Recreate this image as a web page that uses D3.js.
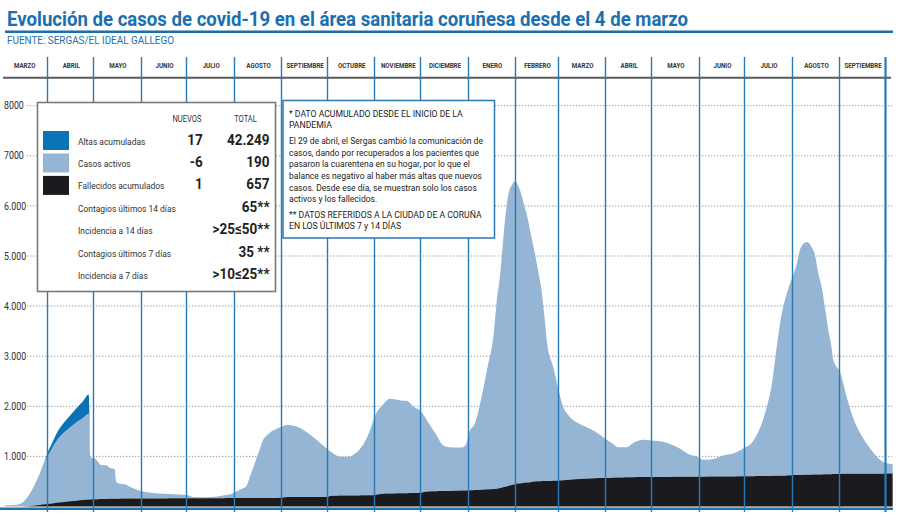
<!DOCTYPE html>
<html><head><meta charset="utf-8">
<script src="https://cdn.jsdelivr.net/npm/d3@7"></script>
<style>
body{margin:0;background:#fff;}
svg{display:block;font-family:Roboto,"Noto Sans",sans-serif;}
</style></head><body>
<svg id="chart" width="900" height="523"></svg>
<script>
// ---------- DATA ----------
const fechas = ["2020-03-04","2020-03-10","2020-03-14","2020-03-18","2020-03-21","2020-03-24","2020-03-27","2020-03-30",
"2020-04-01","2020-04-04","2020-04-08","2020-04-12","2020-04-16","2020-04-20","2020-04-24","2020-04-28","2020-04-29",
"2020-05-02","2020-05-04","2020-05-06","2020-05-10","2020-05-12","2020-05-15","2020-05-16","2020-05-18","2020-05-22","2020-05-26","2020-05-30",
"2020-06-04","2020-06-09","2020-06-17","2020-06-24","2020-06-29",
"2020-07-03","2020-07-05","2020-07-11","2020-07-17","2020-07-21","2020-07-25","2020-07-29",
"2020-08-02","2020-08-06","2020-08-09","2020-08-12","2020-08-14","2020-08-16","2020-08-18","2020-08-20","2020-08-23","2020-08-25","2020-08-29",
"2020-09-02","2020-09-05","2020-09-09","2020-09-13","2020-09-19","2020-09-26",
"2020-10-01","2020-10-04","2020-10-07","2020-10-11","2020-10-16","2020-10-19","2020-10-22","2020-10-25","2020-10-29",
"2020-11-01","2020-11-07","2020-11-11","2020-11-14","2020-11-18","2020-11-22","2020-11-27",
"2020-12-01","2020-12-06","2020-12-11","2020-12-16","2020-12-20","2020-12-25","2020-12-29","2020-12-31",
"2021-01-02","2021-01-06","2021-01-10","2021-01-14","2021-01-18","2021-01-20","2021-01-22","2021-01-24","2021-01-26","2021-01-28","2021-01-30",
"2021-02-01","2021-02-03","2021-02-05","2021-02-07","2021-02-09","2021-02-11","2021-02-14","2021-02-16","2021-02-18","2021-02-20","2021-02-22","2021-02-26",
"2021-03-01","2021-03-04","2021-03-09","2021-03-15","2021-03-22","2021-03-28",
"2021-04-01","2021-04-06","2021-04-09","2021-04-15","2021-04-19","2021-04-26",
"2021-05-01","2021-05-07","2021-05-13","2021-05-20","2021-05-26",
"2021-06-01","2021-06-04","2021-06-11","2021-06-17","2021-06-24","2021-06-30",
"2021-07-07","2021-07-11","2021-07-15","2021-07-19","2021-07-22","2021-07-25","2021-07-29",
"2021-08-01","2021-08-04","2021-08-07","2021-08-11","2021-08-14","2021-08-16","2021-08-18","2021-08-21","2021-08-23","2021-08-25","2021-08-27","2021-08-28",
"2021-09-02","2021-09-06","2021-09-10","2021-09-15","2021-09-19","2021-09-26","2021-09-30",
"2021-10-03","2021-10-06"];

const activos = [20,30,50,144,268,438,628,857,
950,1098,1272,1390,1477,1565,1632,1710,838,
815,753,680,668,617,594,334,303,282,221,170,
130,109,93,82,71,
51,25,20,24,34,53,72,
122,181,231,470,630,815,979,1146,1259,1312,1378,
1422,1440,1420,1380,1260,1093,
958,869,803,772,780,829,908,1028,1293,
1553,1795,1892,1880,1854,1844,1715,
1642,1384,1147,910,874,865,867,931,
1158,1356,1848,2439,3096,3757,4208,4859,5500,5865,5990,
6047,5942,5774,5535,5300,4995,4544,4208,3875,3342,2740,2267,
1862,1504,1247,1100,990,872,
781,676,607,600,678,744,
729,715,661,559,444,
390,336,353,420,464,548,
711,943,1308,1839,2538,3164,3658,
3919,4182,4546,4643,4541,4407,4073,3672,3270,2869,2534,2303,
1999,1531,1130,797,596,329,229,
203,193];

const fallecidos = [0,0,0,6,12,22,32,43,
50,62,78,90,103,115,128,140,142,
145,147,150,152,153,156,156,157,158,159,160,
160,161,162,163,164,
164,165,165,166,166,167,168,
168,169,169,170,170,170,171,171,171,171,172,
178,190,190,190,191,191,
192,215,217,218,220,221,222,223,224,
230,255,258,260,263,266,268,
275,300,304,308,311,315,318,320,
322,328,335,343,351,355,370,385,400,415,430,
443,458,466,475,480,485,500,503,505,508,510,515,
520,526,536,550,560,568,
570,575,578,585,586,587,
588,589,590,592,594,
595,596,597,598,600,603,
606,607,608,610,612,615,620,
625,628,631,634,636,637,638,640,642,644,646,647,
650,652,653,654,655,656,656,
657,657];

// Altas acumuladas (shown only until the 29 de abril change)
const altasFechas  = ["2020-03-30","2020-04-01","2020-04-04","2020-04-08","2020-04-12","2020-04-16","2020-04-20","2020-04-24","2020-04-28","2020-04-29"];
const altasValores = [0,60,100,160,200,240,280,330,385,0];

const meses = ["MARZO","ABRIL","MAYO","JUNIO","JULIO","AGOSTO","SEPTIEMBRE","OCTUBRE","NOVIEMBRE","DICIEMBRE",
               "ENERO","FEBRERO","MARZO","ABRIL","MAYO","JUNIO","JULIO","AGOSTO","SEPTIEMBRE"];
const yTicks = [1000,2000,3000,4000,5000,6000,7000,8000];
const yTickLabels = ["1.000","2.000","3.000","4.000","5.000","6.000","7000","8000"];

const serieNombres = ["Altas acumuladas","Casos activos","Fallecidos acumulados"];
const nuevos = ["17","-6","1"];
const totales = ["42.249","190","657"];
const extraNombres = ["Contagios últimos 14 días","Incidencia a 14 días","Contagios últimos 7 días","Incidencia a 7 días"];
const extraValores = ["65**",">25≤50**","35 **",">10≤25**"];

const notaA = ["* DATO ACUMULADO DESDE EL INICIO DE LA","PANDEMIA"];
const notaB = ["El 29 de abril, el Sergas cambió la comunicación de",
"casos, dando por recuperados a los pacientes que",
"pasaron la cuarentena en su hogar, por lo que el",
"balance es negativo al haber más altas que nuevos",
"casos. Desde ese día, se muestran solo los casos",
"activos y los fallecidos."];
const notaC = ["** DATOS REFERIDOS A LA CIUDAD DE A CORUÑA","EN LOS ÚLTIMOS 7 y 14 DÍAS"];

const titulo = "Evolución de casos de covid-19 en el área sanitaria coruñesa desde el 4 de marzo";
const fuente = "FUENTE: SERGAS/EL IDEAL GALLEGO";

// ---------- STYLE ----------
const C = {
  title:"#1c6fae", altas:"#0b72b5", activos:"#95b5d4", fallecidos:"#1b1a1f",
  month:"#2a7ab5", grid:"#9a9a9a", text:"#2a2a2a"
};

const svg = d3.select("#chart");
const parse = d3.utcParse("%Y-%m-%d");
const start = new Date(Date.UTC(2020,2,1));
const end = new Date(Date.UTC(2021,9,1));
const x = d3.scaleUtc().domain([start,end]).range([0,885]);
const y = d3.scaleLinear().domain([0,8000]).range([506.5,105.7]);

function txt(g, tx, ty, s, o={}) {
  return g.append("text")
    .attr("transform",`translate(${tx},${ty}) scale(${o.sx||1},1)`)
    .attr("font-size",o.size||10)
    .attr("font-weight",o.weight||"normal")
    .attr("fill",o.fill||C.text)
    .attr("text-anchor",o.anchor||"start")
    .text(s);
}

// title
svg.append("text").attr("x",7).attr("y",26).attr("font-size",19.5).attr("font-weight","bold")
  .attr("fill",C.title).attr("textLength",681).attr("lengthAdjust","spacingAndGlyphs").text(titulo);
svg.append("line").attr("x1",5).attr("x2",893).attr("y1",31.8).attr("y2",31.8)
  .attr("stroke",C.title).attr("stroke-width",2.6);
svg.append("text").attr("x",7).attr("y",43.5).attr("font-size",10.2)
  .attr("fill",C.title).attr("textLength",167).attr("lengthAdjust","spacingAndGlyphs").text(fuente);

// grid
const grid = svg.append("g");
yTicks.forEach((v,i)=>{
  grid.append("line").attr("x1",27).attr("x2",892).attr("y1",y(v)).attr("y2",y(v))
    .attr("stroke",C.grid).attr("stroke-width",1).attr("stroke-dasharray","1.3,1.7");
  txt(grid,4,y(v)+3.6,yTickLabels[i],{size:10,sx:0.88,fill:"#2e2e2e"});
});

// data
const altasMap = new Map(altasFechas.map((f,i)=>[f,altasValores[i]]));
const rows = fechas.map((f,i)=>({date:parse(f), fallecidos:fallecidos[i], activos:activos[i], altas:altasMap.get(f)||0}));
const layers = d3.stack().keys(["fallecidos","activos","altas"])(rows);
const area = d3.area().x(d=>x(d.data.date)).y0(d=>y(d[0])).y1(d=>y(d[1])).curve(d3.curveMonotoneX);
const altasEnd = parse(altasFechas[altasFechas.length-1]);
const altasStart = parse(altasFechas[0]);
const g = svg.append("g");
g.append("path").attr("d",area(layers[1])).attr("fill",C.activos);
g.append("path").attr("d",area(layers[0])).attr("fill",C.fallecidos);
g.append("path").attr("d",area(layers[2].filter(d=>d.data.date>=altasStart && d.data.date<=altasEnd))).attr("fill",C.altas);

// header line
svg.append("line").attr("x1",3).attr("x2",891).attr("y1",77.7).attr("y2",77.7)
  .attr("stroke","#5a5a5a").attr("stroke-width",2);

// month labels
meses.forEach((m,i)=>{
  const a = d3.utcMonth.offset(start,i), b = d3.utcMonth.offset(start,i+1);
  txt(svg,(x(a)+x(b))/2+1,67.5,m,{size:7.4,weight:"bold",sx:0.84,anchor:"middle",fill:"#333"});
});

// month lines
for (let i=1;i<=meses.length;i++){
  const xm = Math.round(x(d3.utcMonth.offset(start,i)))+0.5;
  svg.append("line").attr("x1",xm).attr("x2",xm).attr("y1",57).attr("y2",512)
    .attr("stroke",C.month).attr("stroke-width",i===meses.length?2.2:1.4);
}

// bottom axis
svg.append("line").attr("x1",0).attr("x2",893).attr("y1",508.8).attr("y2",508.8)
  .attr("stroke","#1d72b2").attr("stroke-width",2.6);

// legend box
const lg = svg.append("g");
lg.append("rect").attr("x",37.5).attr("y",102.5).attr("width",238).attr("height",189)
  .attr("fill","#fff").attr("stroke","#7a7a7a").attr("stroke-width",1.6);
txt(lg,187,122,"NUEVOS",{size:8.6,sx:0.88,anchor:"middle",fill:"#333"});
txt(lg,245.5,122,"TOTAL",{size:8.6,sx:0.88,anchor:"middle",fill:"#333"});
const rowY = i => 144.5 + i*22.45;
const sw = [C.altas,C.activos,C.fallecidos];
serieNombres.forEach((n,i)=>{
  lg.append("rect").attr("x",43).attr("y",rowY(i)-13.5).attr("width",26).attr("height",19).attr("fill",sw[i]);
  txt(lg,78,rowY(i),n,{size:9.6,sx:0.88,fill:"#333"});
  txt(lg,202.7,rowY(i),nuevos[i],{size:15.5,weight:"bold",sx:0.87,anchor:"end",fill:"#1e1e1e"});
  txt(lg,269.5,rowY(i),totales[i],{size:15.5,weight:"bold",sx:0.87,anchor:"end",fill:"#1e1e1e"});
});
extraNombres.forEach((n,j)=>{
  const i = j+3;
  txt(lg,78,rowY(i),n,{size:9.6,sx:0.88,fill:"#333"});
  txt(lg,269.5,rowY(i),extraValores[j],{size:15.5,weight:"bold",sx:0.87,anchor:"end",fill:"#1e1e1e"});
});

// note box
const nb = svg.append("g");
nb.append("rect").attr("x",283).attr("y",100.5).attr("width",211.5).attr("height",137.5)
  .attr("fill","#fff").attr("stroke",C.month).attr("stroke-width",1.5);
notaA.forEach((s,i)=>txt(nb,289,116.5+i*11.8,s,{size:9,sx:0.96,fill:"#222"}));
notaB.forEach((s,i)=>txt(nb,289,144.3+i*11.55,s,{size:9,sx:0.95,fill:"#222"}));
notaC.forEach((s,i)=>txt(nb,289,217.5+i*11.3,s,{size:9,sx:0.96,fill:"#222"}));
</script>
</body></html>
